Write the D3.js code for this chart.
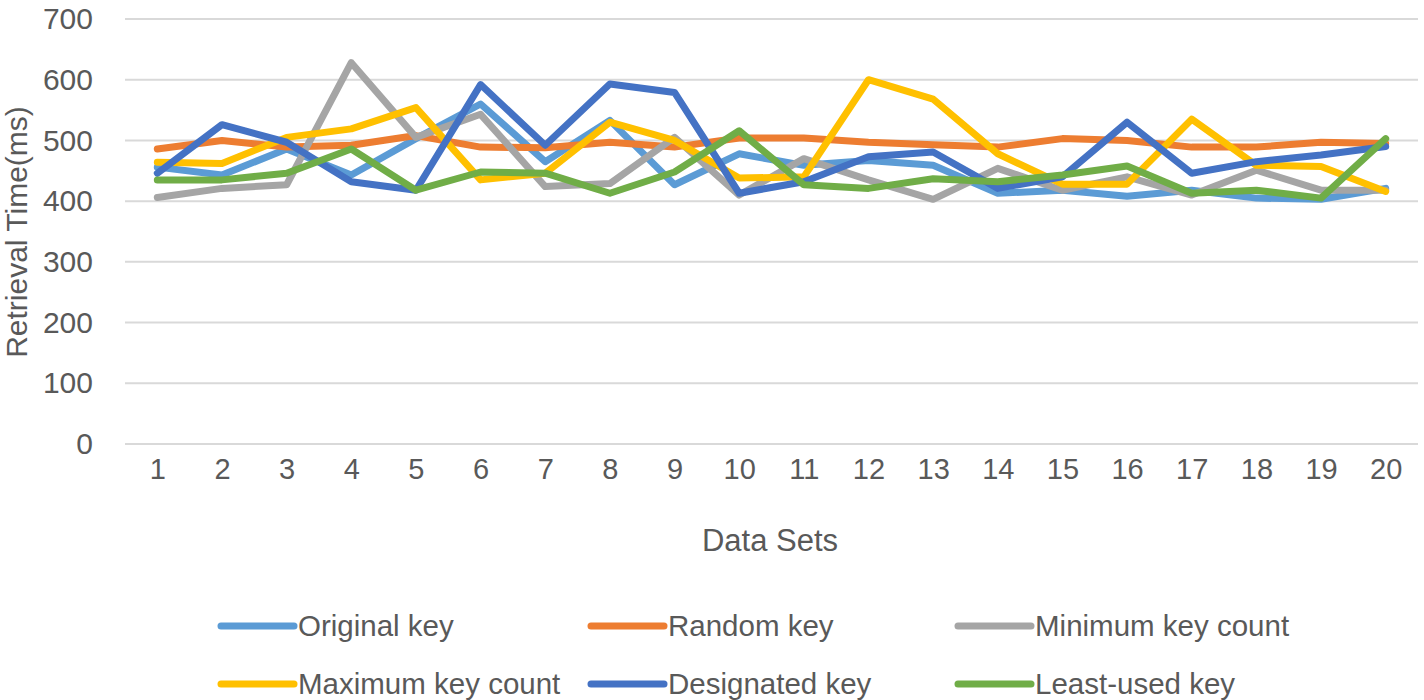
<!DOCTYPE html>
<html lang="en">
<head>
  <meta charset="UTF-8">
  <title>Retrieval Time</title>
  <script src="https://d3js.org/d3.v7.min.js"></script>
  <style>
    body { margin: 0; background: #fff; }
    text { font-family: "Liberation Sans", Arial, sans-serif; fill: #595959; }
  </style>
</head>
<body>
<script>
  const WIDTH = 1424;
  const HEIGHT = 700;

  const dataSets = d3.range(1, 21);
  const yTicks = [0, 100, 200, 300, 400, 500, 600, 700];

  const seriesNames = ['Original key', 'Random key', 'Minimum key count',
    'Maximum key count', 'Designated key', 'Least-used key'];
  const seriesColors = ['#5B9BD5', '#ED7D31', '#A5A5A5', '#FFC000', '#4472C4', '#70AD47'];

  const originalKey = [456, 443, 486, 443, 503, 560, 465, 533, 427, 478, 459, 467, 459, 413, 418, 408, 418, 405, 403, 421];
  const randomKey = [486, 500, 489, 492, 508, 489, 488, 497, 489, 504, 504, 497, 493, 489, 503, 500, 489, 489, 497, 495];
  const minimumKeyCount = [406, 421, 427, 628, 505, 543, 424, 429, 505, 410, 470, 435, 403, 454, 418, 440, 410, 451, 418, 418];
  const maximumKeyCount = [464, 462, 505, 519, 554, 435, 446, 530, 500, 438, 440, 600, 568, 478, 428, 428, 535, 459, 457, 416];
  const designatedKey = [446, 526, 497, 432, 418, 592, 492, 593, 579, 413, 432, 473, 481, 421, 440, 530, 446, 465, 476, 490];
  const leastUsedKey = [435, 435, 446, 486, 418, 448, 446, 413, 448, 516, 427, 421, 437, 432, 443, 458, 413, 418, 405, 503];

  const seriesValues = [originalKey, randomKey, minimumKeyCount, maximumKeyCount, designatedKey, leastUsedKey];

  const margin = { left: 125, right: 6, top: 19, bottom: 256 };

  const x = d3.scalePoint()
    .domain(dataSets)
    .range([margin.left, WIDTH - margin.right])
    .padding(0.5);

  const y = d3.scaleLinear()
    .domain([0, 700])
    .range([HEIGHT - margin.bottom, margin.top]);

  const svg = d3.select('body')
    .append('svg')
    .attr('width', WIDTH)
    .attr('height', HEIGHT);

  // gridlines
  svg.append('g')
    .selectAll('line')
    .data(yTicks)
    .enter()
    .append('line')
    .attr('x1', margin.left)
    .attr('x2', WIDTH - margin.right)
    .attr('y1', d => y(d))
    .attr('y2', d => y(d))
    .attr('stroke', '#d9d9d9')
    .attr('stroke-width', 2);

  // y axis labels
  const yAxis = d3.axisLeft(y).tickValues(yTicks).tickSize(0).tickPadding(32);
  svg.append('g')
    .attr('transform', `translate(${margin.left}, 0)`)
    .call(yAxis)
    .call(g => g.select('.domain').remove())
    .selectAll('text')
    .attr('font-size', 30)
    .attr('font-family', null)
    .attr('fill', null);

  // x axis labels
  const xAxis = d3.axisBottom(x).tickSize(0).tickPadding(14);
  svg.append('g')
    .attr('transform', `translate(0, ${y(0)})`)
    .call(xAxis)
    .call(g => g.select('.domain').remove())
    .selectAll('text')
    .attr('font-size', 29)
    .attr('font-family', null)
    .attr('fill', null);

  // axis titles
  svg.append('text')
    .attr('x', 770)
    .attr('y', 551)
    .attr('text-anchor', 'middle')
    .attr('font-size', 31)
    .text('Data Sets');

  svg.append('text')
    .attr('transform', 'translate(27, 232) rotate(-90)')
    .attr('text-anchor', 'middle')
    .attr('font-size', 30)
    .text('Retrieval Time(ms)');

  // lines
  const line = d3.line()
    .x((d, i) => x(dataSets[i]))
    .y(d => y(d));

  svg.append('g')
    .selectAll('path')
    .data(seriesValues)
    .enter()
    .append('path')
    .attr('d', d => line(d))
    .attr('fill', 'none')
    .attr('stroke', (d, i) => seriesColors[i])
    .attr('stroke-width', 7)
    .attr('stroke-linejoin', 'round')
    .attr('stroke-linecap', 'round');

  // legend
  const legendCols = [218, 588, 955];
  const legendRows = [626, 684];
  const legend = svg.append('g')
    .selectAll('g')
    .data(seriesNames)
    .enter()
    .append('g')
    .attr('transform', (d, i) => `translate(${legendCols[i % 3]}, ${legendRows[Math.floor(i / 3)]})`);

  legend.append('line')
    .attr('x1', 3)
    .attr('x2', 76)
    .attr('stroke', (d, i) => seriesColors[i])
    .attr('stroke-width', 7)
    .attr('stroke-linecap', 'round');

  legend.append('text')
    .attr('x', 80)
    .attr('dy', '0.35em')
    .attr('font-size', 29.5)
    .text(d => d);
</script>
</body>
</html>
